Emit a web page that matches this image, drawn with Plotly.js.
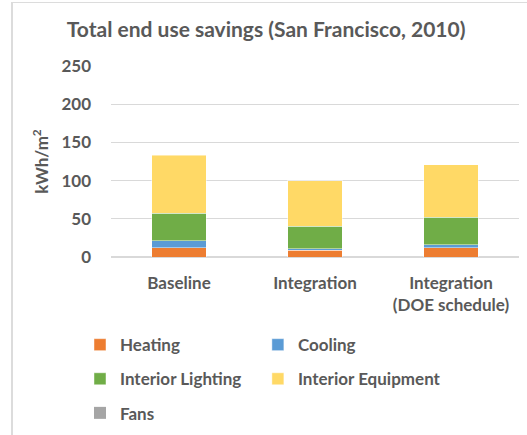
<!DOCTYPE html>
<html>
<head>
<meta charset="utf-8">
<script src="https://cdn.plot.ly/plotly-3.0.1.min.js"></script>
<style>
  html, body { margin: 0; padding: 0; background: #ffffff; }
  #frame { position: absolute; left: 0; top: 0; width: 527px; height: 435px; }
  #edge { position: absolute; left: 11px; top: 2px; width: 516px; height: 433px;
          border-left: 2px solid #dcdcdc; border-top: 1px solid #dcdcdc; box-sizing: border-box; }
  #chart { position: absolute; left: 0; top: 0; width: 527px; height: 435px; }
</style>
</head>
<body>
<div id="frame">
  <div id="edge"></div>
  <div id="chart"></div>
</div>
<script>
// Scenarios along the x axis
const scenarios = ['Baseline', 'Integration', 'Integration<br>(DOE schedule)'];

// End use savings per scenario, kWh/m²
const heating = [12, 9, 12];
const cooling = [9, 2, 4];
const interiorLighting = [36, 29, 36];
const interiorEquipment = [76, 60, 69];
const fans = [0, 0, 0];

const seriesNames = ['Heating', 'Cooling', 'Interior Lighting', 'Interior Equipment', 'Fans'];
const seriesValues = [heating, cooling, interiorLighting, interiorEquipment, fans];
const seriesColors = ['#ED7D31', '#5B9BD5', '#70AD47', '#FFD966', '#A5A5A5'];
// Legend columns: left column and right column
const seriesLegend = ['legend', 'legend2', 'legend', 'legend2', 'legend'];

const textColor = '#595959';
const fontFamily = 'Lato, "Open Sans", sans-serif';

const traces = seriesNames.map((name, i) => ({
  type: 'bar',
  name: name,
  x: scenarios,
  y: seriesValues[i],
  legend: seriesLegend[i],
  legendgroup: name,
  marker: {
    color: seriesColors[i],
    line: { color: 'rgba(255,255,255,0.45)', width: seriesValues[i].some(v => v > 0) ? 1 : 0 }
  },
  hoverinfo: 'name+y'
}));

const legendBase = {
  orientation: 'v',
  xref: 'paper',
  yref: 'container',
  xanchor: 'left',
  yanchor: 'top',
  y: 0.248,
  traceorder: 'grouped',
  tracegroupgap: 9,
  bgcolor: 'rgba(0,0,0,0)',
  font: { family: fontFamily, size: 17, color: textColor, weight: 'bold' },
  itemclick: false,
  itemdoubleclick: false
};

const layout = {
  width: 527,
  height: 435,
  margin: { l: 111, r: 8, t: 66, b: 178, pad: 0 },
  paper_bgcolor: 'rgba(0,0,0,0)',
  plot_bgcolor: 'rgba(0,0,0,0)',
  barmode: 'stack',
  bargap: 0.6,
  title: {
    text: 'Total end use savings (San Francisco, 2010)',
    font: { family: fontFamily, size: 21, color: textColor, weight: 'bold' },
    x: 0.505,
    xanchor: 'center',
    yref: 'container',
    y: 0.931,
    yanchor: 'middle'
  },
  xaxis: {
    type: 'category',
    showgrid: false,
    showline: false,
    zeroline: false,
    ticks: '',
    ticklabelstandoff: 14,
    tickfont: { family: fontFamily, size: 17, color: textColor, weight: 'bold' },
    fixedrange: true
  },
  yaxis: {
    range: [0, 250],
    dtick: 50,
    showgrid: true,
    gridcolor: '#d9d9d9',
    gridwidth: 1,
    zeroline: true,
    zerolinecolor: '#d9d9d9',
    zerolinewidth: 1.5,
    showline: false,
    ticks: '',
    ticklabelstandoff: 19,
    tickfont: { family: fontFamily, size: 17, color: textColor, weight: 'bold' },
    title: {
      text: 'kWh/m<sup>2</sup>',
      font: { family: fontFamily, size: 17, color: textColor, weight: 'bold' },
      standoff: 8
    },
    automargin: false,
    fixedrange: true
  },
  showlegend: true,
  legend: Object.assign({}, legendBase, { x: -0.076 }),
  legend2: Object.assign({}, legendBase, { x: 0.360 })
};

Plotly.newPlot('chart', traces, layout, { displayModeBar: false, staticPlot: false, responsive: false });
</script>
</body>
</html>
